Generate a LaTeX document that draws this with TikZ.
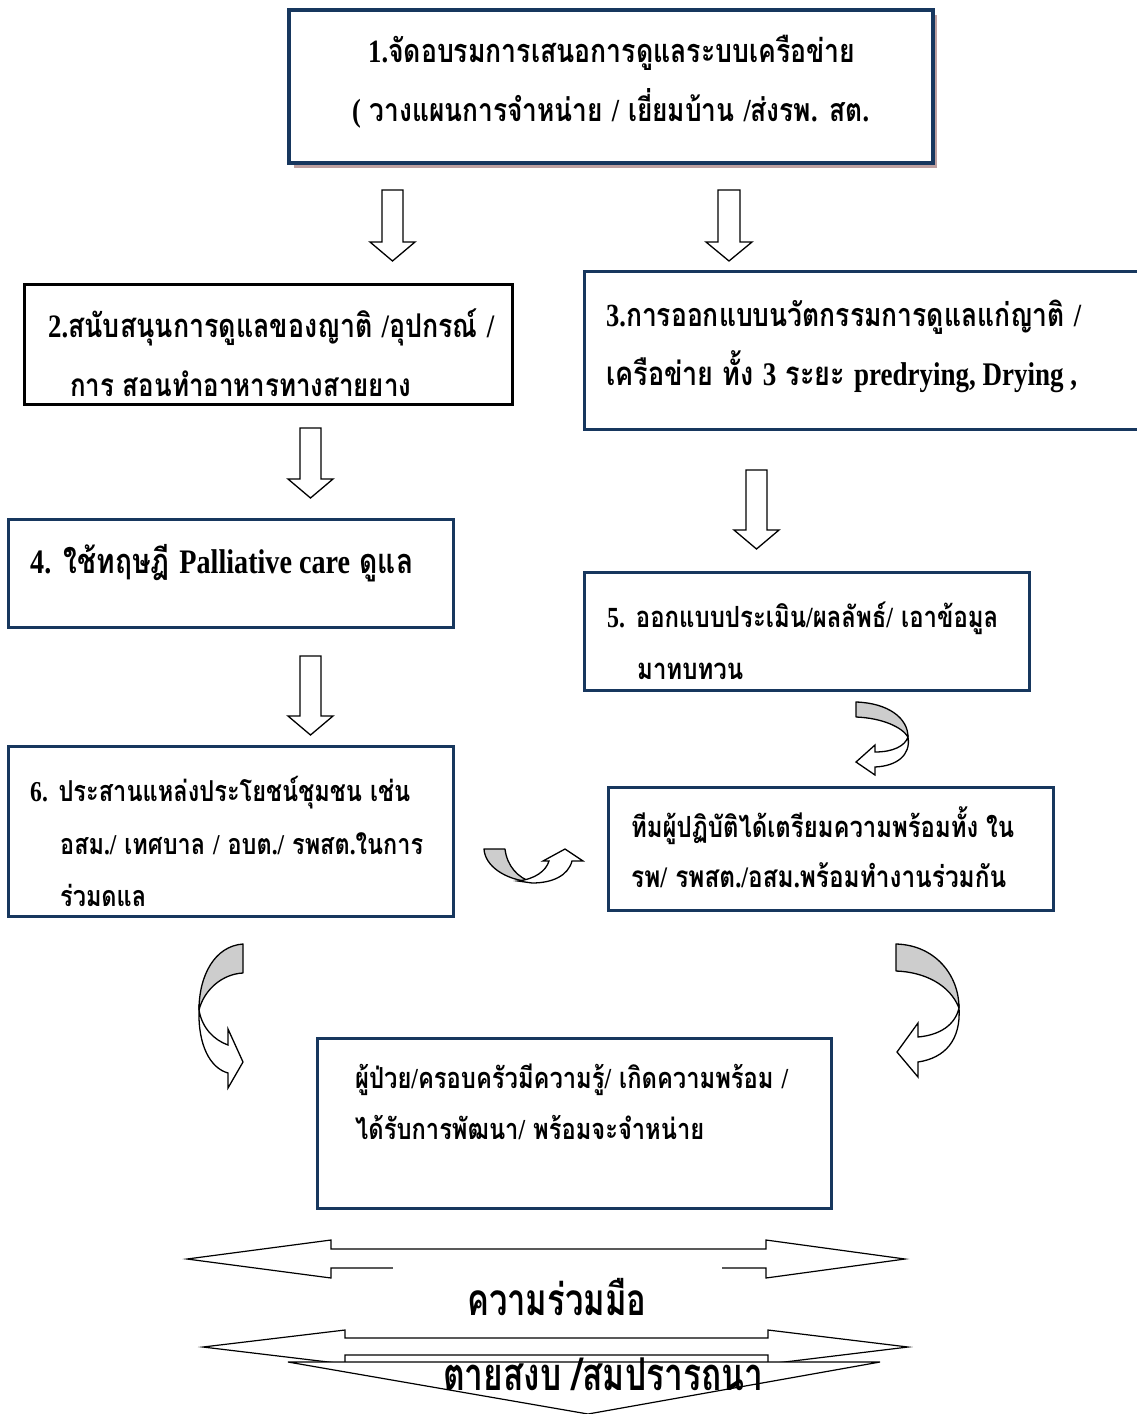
\documentclass[tikz,border=0pt]{standalone}
\usepackage{fontspec}
\usepackage{graphicx}
\newfontfamily\thf[Script=Thai]{Loma}
\newfontfamily\latf{Liberation Serif}
\newcommand\lat[1]{{\latf\bfseries #1}}
\definecolor{navy}{RGB}{23,55,94}
\definecolor{shadowc}{RGB}{190,160,160}
\definecolor{bandgrey}{RGB}{205,205,205}
\newcommand\vs{1.22}
% id, x, baseline y, width, text
\newcommand\tline[5]{\node[anchor=base west, inner sep=0pt] (#1) at (#2,#3) {\scalebox{1}[\vs]{\resizebox{#4pt}{!}{\thf\bfseries #5}}};}
\begin{document}
\begin{tikzpicture}[x=1pt,y=-1pt,
  navybox/.style={draw=navy, line width=3pt},
  blackbox/.style={draw=black, line width=3pt},
  blockarrow/.style={draw=black, line width=1.3pt, fill=white, line join=miter},
  band/.style={draw=black, line width=1.3pt, fill=bandgrey, line join=round},
  front/.style={draw=black, line width=1.3pt, fill=white, line join=miter},
  bigarrow/.style={draw=black, line width=1.2pt, fill=white, line join=miter}]
\useasboundingbox[fill=white] (0,0) rectangle (1136,1414);

% Box 1 with shadow
\fill[shadowc] (294,15) rectangle (937,168);
\draw[navybox, line width=3.5pt, fill=white] (289,10) rectangle (933,163);
\tline{b1a}{368}{62}{487}{\lat{1.}จัดอบรมการเสนอการดูแลระบบเครือข่าย}
\tline{b1b}{352}{121}{517}{\lat{(} วางแผนการจำหน่าย \lat{/} เยี่ยมบ้าน \lat{/}ส่งรพ\lat{.} สต\lat{.}}

% Box 2
\draw[blackbox] (24,284) rectangle (512,404);
\tline{b2a}{48}{337}{446}{\lat{2.}สนับสนุนการดูแลของญาติ \lat{/}อุปกรณ์ \lat{/}}
\tline{b2b}{70}{396}{341}{การ สอนทำอาหารทางสายยาง}

% Box 3
\draw[navybox] (584,271) rectangle (1142,429);
\tline{b3a}{606}{326}{475}{\lat{3.}การออกแบบนวัตกรรมการดูแลแก่ญาติ \lat{/}}
\tline{b3b}{606}{385}{471}{เครือข่าย ทั้ง \lat{3} ระยะ \lat{predrying, Drying ,}}

% Box 4
\draw[navybox] (8,519) rectangle (453,627);
\tline{b4a}{30}{573}{383}{\lat{4.} ใช้ทฤษฎี \lat{Palliative care} ดูแล}

% Box 5
\draw[navybox] (584,572) rectangle (1029,690);
\tline{b5a}{607}{627}{391}{\lat{5.} ออกแบบประเมิน\lat{/}ผลลัพธ์\lat{/} เอาข้อมูล}
\tline{b5b}{637}{679}{106}{มาทบทวน}

% Box 6
\tline{b6a}{30}{801}{380}{\lat{6.} ประสานแหล่งประโยชน์ชุมชน เช่น}
\tline{b6b}{60}{854}{363}{อสม\lat{./} เทศบาล \lat{/} อบต\lat{./} รพสต\lat{.}ในการ}
\begin{scope}
\clip (8,746) rectangle (453,914);
\tline{b6c}{60}{906}{86}{ร่วมดแล}
\end{scope}
\draw[navybox] (8,746) rectangle (453,916);

% Team box
\draw[navybox] (608,787) rectangle (1053,910);
\tline{b7a}{631}{837}{383}{ทีมผู้ปฏิบัติได้เตรียมความพร้อมทั้ง ใน}
\tline{b7b}{631}{887}{375}{รพ\lat{/} รพสต\lat{./}อสม\lat{.}พร้อมทำงานร่วมกัน}

% Box 8
\draw[navybox] (317,1038) rectangle (831,1208);
\tline{b8a}{355}{1088}{433}{ผู้ป่วย\lat{/}ครอบครัวมีความรู้\lat{/} เกิดความพร้อม \lat{/}}
\tline{b8b}{355}{1139}{349}{ได้รับการพัฒนา\lat{/} พร้อมจะจำหน่าย}

% Block down arrows
\draw[blockarrow] (382,190) -- (403,190) -- (403,242) -- (415,242) -- (392.5,261) -- (370,242) -- (382,242) -- cycle;
\draw[blockarrow] (718,190) -- (740,190) -- (740,242) -- (752,242) -- (729,261) -- (706,242) -- (718,242) -- cycle;
\draw[blockarrow] (300,428) -- (321,428) -- (321,479) -- (333,479) -- (310.5,498) -- (288,479) -- (300,479) -- cycle;
\draw[blockarrow] (746,470) -- (767,470) -- (767,530) -- (779,530) -- (756.5,549) -- (734,530) -- (746,530) -- cycle;
\draw[blockarrow] (300,656) -- (321,656) -- (321,716) -- (333,716) -- (310.5,735) -- (288,716) -- (300,716) -- cycle;

% Curved arrow A (box 5 -> team)
\draw[band] (856,702) .. controls (888,703) and (908,718) .. (908,737) .. controls (902,727) and (882,718) .. (856,717) -- cycle;
\draw[front] (908,737) .. controls (911,755) and (897,766) .. (875,767) -- (875,775) -- (856,762) -- (875,745) -- (875,752) .. controls (893,752) and (905,746) .. (908,737) -- cycle;

% Curved arrow B (box 6 -> team)
\draw[band] (484,849) -- (505,849) .. controls (507,866) and (518,878) .. (532,882) .. controls (505,880) and (485,866) .. (484,849) -- cycle;
\draw[front] (518,881) .. controls (535,879) and (546,871) .. (549,861) -- (543,861) -- (565,849) -- (583,861) -- (572,861) .. controls (568,876) and (552,883) .. (532,883) -- cycle;

% Curved arrow C (box 6 -> box 8)
\draw[band] (243,944) -- (243,973) .. controls (222,974) and (204,990) .. (199,1010) .. controls (199,975) and (215,946) .. (243,944) -- cycle;
\draw[front] (199,1010) .. controls (198,1045) and (210,1068) .. (228,1073) -- (228,1088) -- (243,1062) -- (228,1029) -- (228,1045) .. controls (214,1040) and (202,1028) .. (199,1010) -- cycle;

% Curved arrow D (team -> box 8)
\draw[band] (896,944) -- (896,971) .. controls (925,972) and (950,985) .. (959,1008) .. controls (959,975) and (935,945) .. (896,944) -- cycle;
\draw[front] (959,1008) .. controls (961,1040) and (945,1058) .. (918,1062) -- (918,1077) -- (897,1052) -- (918,1023) -- (918,1037) .. controls (940,1035) and (955,1025) .. (959,1008) -- cycle;

% Bottom double arrows
\draw[bigarrow] (187,1259) -- (331,1240) -- (331,1249) -- (766,1249) -- (766,1240) -- (905,1259) -- (766,1278) -- (766,1268) -- (331,1268) -- (331,1278) -- cycle;
\node[fill=white, inner sep=0pt, minimum width=329pt, minimum height=56pt, anchor=north west] (gap) at (393,1266) {};
\node[anchor=base west, inner sep=0pt] (coop) at (467,1315) {\scalebox{1}[1.35]{\resizebox{179pt}{!}{\thf\bfseries ความร่วมมือ}}};
\draw[bigarrow] (203,1347) -- (345,1330) -- (345,1338) -- (768,1338) -- (768,1330) -- (908,1347) -- (768,1364) -- (768,1355) -- (345,1355) -- (345,1364) -- cycle;
\draw[bigarrow] (288,1362) -- (880,1362) -- (588,1414) -- cycle;
\node[anchor=base west, inner sep=0pt] (peace) at (443,1390) {\scalebox{1}[1.35]{\resizebox{320pt}{!}{\thf\bfseries ตายสงบ /สมปรารถนา}}};
\end{tikzpicture}
\end{document}
